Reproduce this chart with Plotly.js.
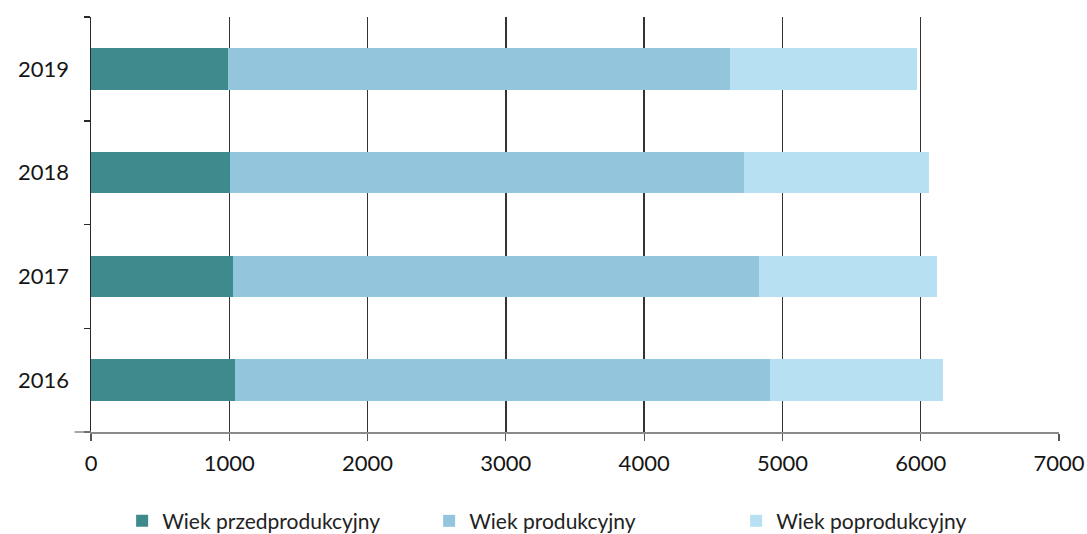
<!DOCTYPE html>
<html>
<head>
<meta charset="utf-8">
<script src="https://cdn.plot.ly/plotly-3.0.1.min.js"></script>
<style>html,body{margin:0;padding:0;background:#fff;}#chart{width:1087px;height:534px;}</style>
</head>
<body>
<div id="chart"></div>
<script>
const years = ["2016", "2017", "2018", "2019"];
const seriesNames = ["Wiek przedprodukcyjny", "Wiek produkcyjny", "Wiek poprodukcyjny"];
const przedprodukcyjny = [1041, 1024, 1005, 993];
const produkcyjny = [3869, 3808, 3717, 3627];
const poprodukcyjny = [1253, 1288, 1340, 1350];
const xTicks = [0, 1000, 2000, 3000, 4000, 5000, 6000, 7000];
const colors = ["#3f8a8d", "#93c6dd", "#b8e0f3"];

const values = [przedprodukcyjny, produkcyjny, poprodukcyjny];
const traces = values.map((v, i) => ({
  type: "bar",
  orientation: "h",
  name: seriesNames[i],
  x: v,
  y: years,
  marker: {color: colors[i], line: {width: 0}},
  hoverinfo: "x+name"
}));

const font = {family: "Lato, 'Open Sans', sans-serif", size: 22, color: "#151515"};

const layout = {
  width: 1087,
  height: 534,
  margin: {l: 91, r: 28, t: 17, b: 102, autoexpand: false},
  paper_bgcolor: "#fff",
  plot_bgcolor: "#fff",
  barmode: "stack",
  bargap: 0.6,
  font: font,
  showlegend: true,
  legend: {
    orientation: "h",
    xref: "container", yref: "container",
    x: 0.536, xanchor: "center",
    y: 0.024, yanchor: "middle",
    font: {family: "Lato, 'Open Sans', sans-serif", size: 21, color: "#222"},
    traceorder: "normal",
    entrywidth: 262,
    itemwidth: 30
  },
  xaxis: {
    range: [0, 7000],
    tickvals: xTicks,
    ticktext: xTicks.map(String),
    showgrid: true,
    gridcolor: "#333",
    gridwidth: 1.5,
    zeroline: false,
    showline: true,
    linecolor: "#8a8a8a",
    linewidth: 1.5,
    ticks: "outside",
    ticklen: 7,
    tickcolor: "#555",
    tickwidth: 1.2,
    tickfont: font,
    ticklabelstandoff: 4,
    fixedrange: true
  },
  yaxis: {
    type: "category",
    categoryorder: "array",
    categoryarray: years,
    showgrid: false,
    zeroline: false,
    showline: true,
    linecolor: "#2a2a2a",
    linewidth: 1.5,
    ticks: "outside",
    tickson: "boundaries",
    ticklen: 6,
    tickcolor: "#2a2a2a",
    tickwidth: 1.5,
    tickfont: font,
    ticklabelstandoff: 16,
    fixedrange: true
  },
  shapes: [
    {type: "line", xref: "paper", yref: "paper", x0: -0.017, x1: 0, y0: 0, y1: 0,
     line: {color: "#8a8a8a", width: 1.5}}
  ]
};

Plotly.newPlot("chart", traces, layout, {displayModeBar: false, staticPlot: true});
</script>
</body>
</html>
